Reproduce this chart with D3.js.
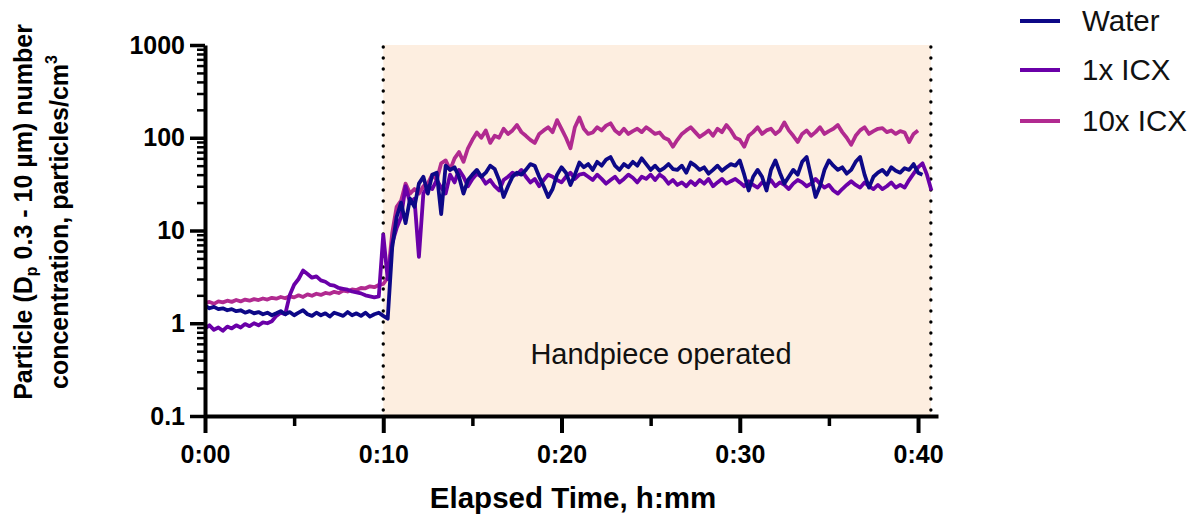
<!DOCTYPE html>
<html>
<head>
<meta charset="utf-8">
<script src="https://cdn.jsdelivr.net/npm/d3@7"></script>
<style>
  body { margin: 0; background: #fff; }
  svg { display: block; font-family: Arial, "Liberation Sans", sans-serif; }
</style>
</head>
<body>
<svg width="1204" height="519"></svg>
<script>
// minutes between readings, every series starts at 0:00
const timeStep = 0.25;

const seriesNames = ['Water', '1x ICX', '10x ICX'];

const waterValues = [
  1.55, 1.45, 1.5, 1.42,  1.45, 1.38, 1.42, 1.35,  1.38, 1.3, 1.35, 1.28,  1.32, 1.25, 1.3, 1.22,
  1.28, 1.35, 1.25, 1.32,  1.22, 1.3, 1.38, 1.25,  1.2, 1.3, 1.22, 1.28,  1.18, 1.3, 1.25, 1.2,
  1.32, 1.22, 1.28, 1.2,  1.3, 1.18, 1.25, 1.3,  1.2, 1.12, 6.5, 14,  20, 12, 22, 18,
  32, 38, 25, 40,  42, 15, 50, 45,  48, 38, 25, 35,  40, 45, 38, 42,
  50, 46, 35, 23,  30, 38, 42, 40,  45, 52, 50, 38,  30, 23, 28, 40,
  48, 42, 31, 40,  54, 48, 52, 45,  55, 50, 58, 62,  50, 45, 52, 48,
  55, 50, 60, 52,  45, 50, 44, 47,  52, 46, 45, 50,  42, 54, 50, 45,
  48, 41, 45, 50,  44, 48, 52, 50,  57, 40, 27, 38,  45, 38, 27, 45,
  57, 42, 32, 38,  45, 40, 55, 62,  38, 23, 30, 45,  57, 50, 45, 48,
  41, 45, 55, 62,  40, 29, 38, 42,  45, 40, 48, 44,  42, 47, 45, 52,
  42, 40
];

const icx1Values = [
  0.88, 0.95, 0.85, 0.9,  0.83, 0.92, 0.88, 0.95,  0.9, 0.98, 0.93, 1.0,  0.95, 1.02, 1.0, 1.05,
  1.2, 1.3, 1.25, 2.0,  2.6, 3.0, 3.7, 3.4,  3.1, 3.2, 2.9, 2.8,  2.6, 2.55, 2.4, 2.35,
  2.3, 2.2, 2.15, 2.1,  2.0, 1.95, 1.9, 1.95,  9.0, 3.0, 7.3, 10.6,  14, 30, 20, 22,
  5.2, 25, 30, 28,  35, 29, 25, 40,  33, 45, 38, 30,  36, 41, 38, 32,
  35, 30, 27, 35,  38, 42, 40, 45,  38, 33, 36, 30,  35, 40, 38, 35,
  33, 38, 42, 36,  40, 41, 38, 35,  40, 36, 32, 35,  38, 33, 36, 40,
  37, 33, 38, 36,  40, 35, 40, 37,  32, 35, 31, 33,  30, 34, 31, 35,
  32, 36, 30, 33,  36, 32, 34, 36,  33, 30, 34, 31,  29, 33, 31, 35,
  30, 33, 31, 28,  32, 35, 33, 30,  32, 36, 32, 29,  31, 27, 25, 28,
  31, 34, 31, 29,  33, 30, 28, 31,  28, 30, 33, 29,  31, 29, 35, 41,
  48, 53, 40, 27
];

const icx10Values = [
  1.65, 1.7, 1.62, 1.72,  1.68, 1.75, 1.7, 1.78,  1.72, 1.8, 1.75, 1.82,  1.78, 1.85, 1.8, 1.88,
  1.84, 1.92, 1.86, 1.95,  1.9, 2.0, 1.92, 2.05,  1.98, 2.08, 2.02, 2.12,  2.08, 2.18, 2.12, 2.25,
  2.2, 2.32, 2.28, 2.4,  2.38, 2.5, 2.45, 2.58,  2.65, 3.1, 9.3, 18,  21, 32, 25, 28,
  25, 30, 32, 40,  35, 53, 57, 45,  60, 70, 55, 77,  95, 114, 100, 120,
  88, 105, 100, 125,  110, 120, 137, 115,  105, 95, 88, 110,  120, 130, 115, 155,
  125, 100, 77, 130,  165, 125, 110, 114,  130, 120, 135, 143,  120, 110, 125, 110,
  118, 125, 115, 130,  120, 110, 114, 100,  95, 80, 95, 110,  120, 130, 115, 102,
  110, 120, 105, 125,  115, 137, 120, 100,  95, 80, 105, 115,  130, 110, 120, 125,
  110, 120, 146, 120,  105, 90, 110, 120,  105, 115, 130, 110,  118, 125, 137, 115,
  100, 84, 105, 120,  130, 110, 118, 125,  127, 115, 120, 110,  118, 114, 90, 110,
  120
];

const seriesColors = ['#0d0887', '#6a00a8', '#b12a90'];

const yTickValues = [0.1, 1, 10, 100, 1000];
const yTickLabels = ['0.1', '1', '10', '100', '1000'];
const xTickValues = [0, 10, 20, 30, 40];
const xTickLabels = ['0:00', '0:10', '0:20', '0:30', '0:40'];
const xMinorTicks = [5, 15, 25, 35];

// handpiece operated window, minutes
const operatedStart = 10;
const operatedEnd = 40.72;

document.addEventListener('DOMContentLoaded', function() {
    let svg = d3.select('svg');

    let x = d3.scaleLinear().domain([0, 41.12]).range([205, 938]);
    let y = d3.scaleLog().domain([0.1, 1000]).range([416, 45]);

    // shaded window
    svg.append('rect')
        .attr('x', x(operatedStart))
        .attr('y', y(1000))
        .attr('width', x(operatedEnd) - x(operatedStart))
        .attr('height', y(0.1) - y(1000))
        .attr('fill', '#fdeee0');

    svg.append('g').attr('class', 'markers')
        .selectAll('line')
        .data([operatedStart, operatedEnd])
        .join('line')
        .attr('x1', d => x(d)).attr('x2', d => x(d))
        .attr('y1', y(1000) + 2).attr('y2', y(0.1))
        .attr('stroke', '#000')
        .attr('stroke-width', 3.4)
        .attr('stroke-linecap', 'round')
        .attr('stroke-dasharray', '0 11');

    svg.append('text')
        .attr('x', 661).attr('y', 364)
        .attr('text-anchor', 'middle')
        .attr('font-size', 29)
        .attr('fill', '#111')
        .text('Handpiece operated');

    // data lines (10x first so water ends up on top)
    let allSeries = [waterValues, icx1Values, icx10Values];
    let line = d3.line()
        .x((d, i) => x(i * timeStep))
        .y(d => y(d));

    svg.append('g').attr('class', 'series')
        .selectAll('path')
        .data([2, 1, 0])
        .join('path')
        .attr('d', k => line(allSeries[k]))
        .attr('fill', 'none')
        .attr('stroke', k => seriesColors[k])
        .attr('stroke-width', 3.8)
        .attr('stroke-linejoin', 'round');

    // y axis
    let yMinor = [];
    [0.1, 1, 10, 100].forEach(function(dec) {
        for (let k = 2; k <= 9; k++) yMinor.push(dec * k);
    });

    let yMinorAxis = svg.append('g')
        .attr('transform', 'translate(205,0)')
        .call(d3.axisLeft(y).tickValues(yMinor).tickFormat('').tickSize(8).tickSizeOuter(0));
    yMinorAxis.select('.domain').remove();
    yMinorAxis.selectAll('line').attr('stroke-width', 2.5);

    let yAxis = svg.append('g')
        .attr('transform', 'translate(205,0)')
        .call(d3.axisLeft(y).tickValues(yTickValues)
            .tickFormat((d, i) => yTickLabels[i])
            .tickSize(15).tickSizeOuter(0).tickPadding(5));
    yAxis.select('.domain').attr('stroke-width', 4);
    yAxis.selectAll('line').attr('stroke-width', 3.5);
    yAxis.selectAll('text')
        .attr('font-size', 25).attr('font-weight', 'bold')
        .attr('font-family', 'Arial, "Liberation Sans", sans-serif')
        .attr('fill', '#000');

    // x axis
    let xMinorAxis = svg.append('g')
        .attr('transform', 'translate(0,416)')
        .call(d3.axisBottom(x).tickValues(xMinorTicks).tickFormat('').tickSize(10).tickSizeOuter(0));
    xMinorAxis.select('.domain').remove();
    xMinorAxis.selectAll('line').attr('stroke-width', 3.5);

    let xAxis = svg.append('g')
        .attr('transform', 'translate(0,416)')
        .call(d3.axisBottom(x).tickValues(xTickValues)
            .tickFormat((d, i) => xTickLabels[i])
            .tickSize(17).tickSizeOuter(0).tickPadding(12));
    xAxis.select('.domain').attr('stroke-width', 4);
    xAxis.selectAll('line').attr('stroke-width', 4);
    xAxis.selectAll('text')
        .attr('font-size', 25).attr('font-weight', 'bold')
        .attr('font-family', 'Arial, "Liberation Sans", sans-serif')
        .attr('fill', '#000');

    // axis titles
    svg.append('text')
        .attr('x', 573).attr('y', 508)
        .attr('text-anchor', 'middle')
        .attr('font-size', 29.5).attr('font-weight', 'bold')
        .text('Elapsed Time, h:mm');

    let yt1 = svg.append('text')
        .attr('transform', 'translate(32,212) rotate(-90)')
        .attr('text-anchor', 'middle')
        .attr('font-size', 25).attr('font-weight', 'bold');
    yt1.append('tspan').text('Particle (D');
    yt1.append('tspan').attr('font-size', 16).attr('dy', 5).text('p');
    yt1.append('tspan').attr('dy', -5).text(' 0.3 - 10 \u00b5m) number');

    let yt2 = svg.append('text')
        .attr('transform', 'translate(68,222) rotate(-90)')
        .attr('text-anchor', 'middle')
        .attr('font-size', 25).attr('font-weight', 'bold');
    yt2.append('tspan').text('concentration, particles/cm');
    yt2.append('tspan').attr('font-size', 16).attr('dy', -11).text('3');

    // legend
    let legend = svg.append('g').attr('class', 'legend')
        .selectAll('g')
        .data(seriesNames)
        .join('g')
        .attr('transform', (d, i) => 'translate(1020,' + [21, 70, 121][i] + ')');
    legend.append('line')
        .attr('x1', 0).attr('x2', 40)
        .attr('stroke', (d, i) => seriesColors[i])
        .attr('stroke-width', 4);
    legend.append('text')
        .attr('x', 62).attr('y', 10)
        .attr('font-size', 29.5)
        .attr('fill', '#111')
        .text(d => d);
});
</script>
</body>
</html>
